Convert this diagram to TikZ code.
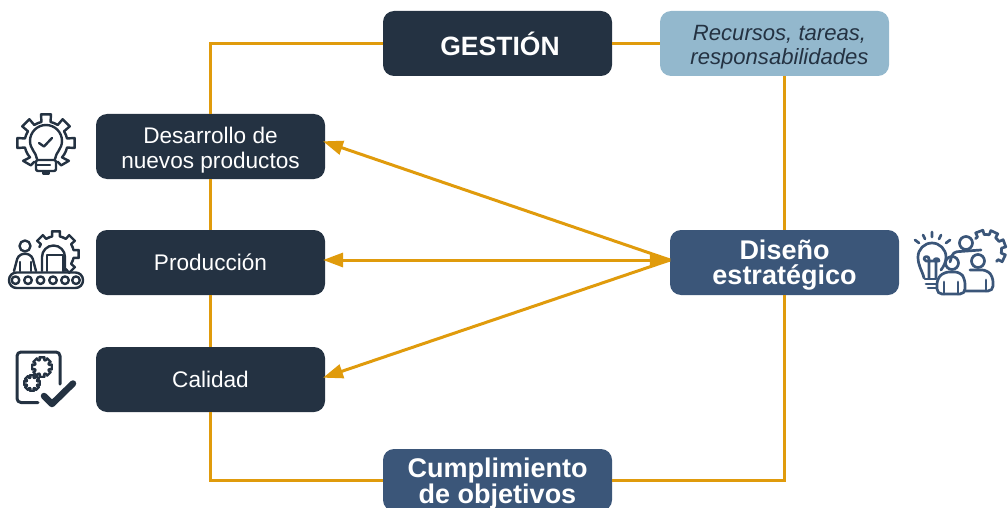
\documentclass[tikz,border=0pt]{standalone}
\usepackage{fontspec}
\setmainfont{Liberation Sans}
\usetikzlibrary{arrows.meta,calc}
\definecolor{darkbox}{HTML}{243242}
\definecolor{bluebox}{HTML}{3B5679}
\definecolor{lightbox}{HTML}{93B8CD}
\definecolor{linkc}{HTML}{E09B0C}
\tikzset{
 box/.style={rounded corners=11pt,minimum width=229pt,minimum height=65pt,inner sep=0pt,align=center,text=white,fill=darkbox},
 hbox/.style={box,fill=bluebox,font=\fontsize{27}{24.5}\selectfont\bfseries},
 sbox/.style={box,font=\fontsize{22.6}{25}\selectfont},
 link/.style={draw=linkc,line width=3pt},
 arr/.style={link,-{Triangle[length=20pt,width=14pt]}},
 ico/.style={draw=darkbox,line width=2.4pt,line join=round,line cap=round},
 icob/.style={draw=bluebox,line width=2.7pt,line join=round,line cap=round}
}
\newcommand{\lift}[1]{\rule{0pt}{#1pt}}
% gear teeth: #1 style, #2 centre, #3 outer r, #4 inner r, #5 tooth half-angle, #6 list of angles, #7 step
\newcommand{\gearteeth}[7]{%
 \foreach \ga in {#6}{%
  \draw[#1] ($(#2)+(\ga-#7/2:#4)$) arc[start angle=\ga-#7/2,end angle=\ga-#5*1.2,radius=#4]
   -- ($(#2)+(\ga-#5:#3)$) -- ($(#2)+(\ga+#5:#3)$) -- ($(#2)+(\ga+#5*1.2:#4)$)
   arc[start angle=\ga+#5*1.2,end angle=\ga+#7/2,radius=#4];
 }}
\begin{document}
\begin{tikzpicture}[x=1pt,y=-1pt]
\useasboundingbox (0,0) rectangle (1008,508);
\clip (0,0) rectangle (1008,508);
\node[box,font=\fontsize{26.5}{28}\selectfont\bfseries] (gestion) at (497.5,43.5) {\hspace*{5pt}GESTIÓN};
\node[box,fill=lightbox,text=darkbox,font=\fontsize{22.1}{24}\selectfont\itshape] (recursos) at (774.5,43.5) {\lift{23}\hspace*{10pt}Recursos, tareas,\\\hspace*{10pt}responsabilidades};
\node[sbox] (desarrollo) at (210.5,146.5) {\lift{23}Desarrollo de\\nuevos productos};
\node[sbox] (produccion) at (210.5,262.5) {Producción};
\node[sbox] (calidad) at (210.5,379.5) {Calidad};
\node[hbox] (diseno) at (784.5,262.5) {\lift{25}Diseño\\estratégico};
\node[hbox,minimum height=62pt,font=\fontsize{27}{24.5}\selectfont\bfseries] (cumplimiento) at (497.5,480) {\lift{27}Cumplimiento\\de objetivos};
% connectors
\draw[link] (gestion.west) -| (desarrollo.north);
\draw[link] (desarrollo.south) -- (produccion.north);
\draw[link] (produccion.south) -- (calidad.north);
\draw[link] (calidad.south) |- (cumplimiento.west);
\draw[link] (cumplimiento.east) -| (diseno.south);
\draw[link] (gestion.east) -- (recursos.west);
\draw[link] (recursos.south -| diseno.north) -- (diseno.north);
\coordinate (hub) at (670,260);
\coordinate (t1) at (323,141.3);
\coordinate (t2) at (323,260);
\coordinate (t3) at (323,377.7);
\draw[arr] (hub) -- (t1);
\draw[arr] (hub) -- (t2);
\draw[arr] (hub) -- (t3);
\draw[linkc,fill=linkc] (hub) -- (650,252.5) -- (650,267.5) -- cycle;
% icon 1: gear with bulb
\coordinate (g1) at (46,143);
\gearteeth{ico}{g1}{29}{21.5}{10}{0,-45,-90,-135,180}{45}
\draw[ico] ($(g1)+(22.5:21.5)$) arc[start angle=22.5,end angle=42,radius=21.5] -- ($(g1)+(38:29)$) -- ($(g1)+(56:27)$) -- ($(g1)+(58:22)$);
\draw[ico] ($(g1)+(157.5:21.5)$) arc[start angle=157.5,end angle=138,radius=21.5] -- ($(g1)+(142:29)$) -- ($(g1)+(124:27)$) -- ($(g1)+(122:22)$);
\draw[ico] (37,159) .. controls (36,152) and (30,149) .. (30,141) arc[start angle=180,end angle=360,radius=16] .. controls (62,149) and (56,152) .. (55,159);
\draw[ico,rounded corners=2pt] (36,160) rectangle (56,171);
\draw[ico] (36,165) -- (50,165);
\draw[ico] (43,171) -- (43,173.5) -- (49,173.5) -- (49,171);
\draw[ico] (39,143) -- (44,146.5) -- (52,138);
% icon 2: conveyor, person, gear
\coordinate (g2) at (56,254);
\gearteeth{ico}{g2}{23}{18}{10}{45,0,-45,-90,-135}{45}
\draw[ico] (42,271) -- (42,257) arc[start angle=180,end angle=360,radius=11.5] -- (65,271);
\draw[ico] (47,271) -- (47,255) -- (63,255) -- (63,271);
\draw[ico] (25,246) circle[radius=5.5];
\draw[ico,rounded corners=3pt] (14,271) -- (18,256) -- (25,253) -- (32,256) -- (36,271);
\draw[ico] (20,262) -- (20,271) (31,262) -- (31,271);
\draw[ico,rounded corners=7.5pt] (9,272.5) rectangle (83,288);
\foreach \cx in {15.5,28,40.5,53,65,76}{\draw[ico] (\cx,280.2) circle[radius=3.8];}
% icon 3: document, gears, tick
\draw[ico,line width=3pt,rounded corners=4pt] (60,384) -- (60,352) -- (17,352) -- (17,402.5) -- (38,402.5);
\coordinate (g3) at (42,367);
\coordinate (g4) at (32,383);
\gearteeth{ico,line width=2.4pt}{g3}{10}{7.4}{14}{0,45,90,135,180,225,270,315}{45}
\gearteeth{ico,line width=2.4pt}{g4}{8}{5.6}{14}{0,45,90,135,180,225,270,315}{45}
\draw[draw=darkbox,line width=6.5pt,line cap=round,line join=round] (44,396) -- (52,404) -- (73,383.5);
% icon 4: bulb, people, gear
\coordinate (g5) at (986,250);
\gearteeth{icob}{g5}{20}{15.5}{11}{25,-20,-65,-110}{45}
\draw[icob] (924,278) .. controls (922,270) and (918,266) .. (918,257) arc[start angle=180,end angle=360,radius=14] .. controls (946,262) and (944,266) .. (941,270);
\draw[icob] (929,278) -- (929,259) (936,278) -- (936,259) (929,259) arc[start angle=0,end angle=-180,radius=2.5] -- (926,261) -- (939,261) arc[start angle=0,end angle=-180,radius=2.5];
\draw[icob] (925,279) -- (936,279) (926,284) -- (936,284) (928,288) -- (936,288);
\draw[icob] (932,232) -- (932,237) (923,235) -- (925,239) (941,235) -- (939,239) (915,240) -- (919,243) (950,240) -- (946,243);
\draw[icob] (966,243) circle[radius=6.5];
\draw[icob,rounded corners=4pt] (950,262) -- (953,252) -- (981,250);
\draw[icob] (952,263) circle[radius=6.5];
\draw[icob,rounded corners=5pt] (937,294) -- (937,279) -- (944,272) -- (960,272) -- (965,279) -- (965,294) -- cycle;
\draw[icob] (944,282) -- (944,294) (958,282) -- (958,294);
\draw[icob] (978,261) circle[radius=6.5];
\draw[icob,rounded corners=5pt] (965,291) -- (993,291) -- (993,277) -- (987,270) -- (970,270);
\draw[icob] (986,280) -- (986,291);
\end{tikzpicture}
\end{document}
